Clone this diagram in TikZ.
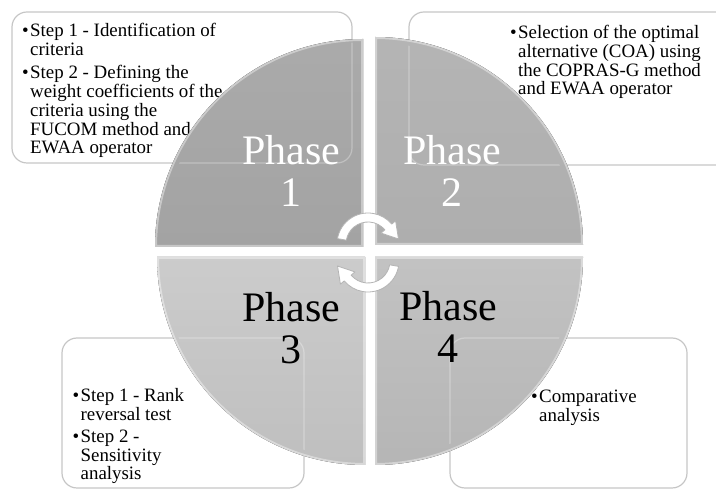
\documentclass[tikz,border=0pt]{standalone}
\usepackage{fontspec}
\setmainfont{Liberation Serif}
\definecolor{panelline}{HTML}{C6C6C6}
\definecolor{quadA}{HTML}{A3A3A3}
\definecolor{quadB}{HTML}{AEAEAE}
\definecolor{quadC}{HTML}{C9C9C9}
\definecolor{quadD}{HTML}{BFBFBF}
\definecolor{arrowedge}{HTML}{B4B4B4}
\newcommand{\bulletmark}{\makebox[8pt][l]{\textbullet}}
\begin{document}
\begin{tikzpicture}[x=1pt,y=1pt,
  panel/.style={draw=panelline, line width=1.2pt, rounded corners=15pt},
  panelglow/.style={draw=white, draw opacity=0.3, line width=1.2pt, rounded corners=15pt},
  bullets/.style={anchor=base west, inner sep=0pt, font=\fontsize{18.9}{18.5}\selectfont},
  phasetext/.style={align=center, inner sep=0pt, font=\fontsize{42}{42.5}\selectfont},
  bevel/.style={draw=white, draw opacity=0.4, line width=4pt},
  cyclearrow/.style={fill=white, draw=arrowedge, line width=0.8pt, line join=round}
]
\useasboundingbox (0,0) rectangle (716,490);
\clip (0,0) rectangle (716,490);

% outlined text panels behind the wheel
\draw[panel] (12,327) rectangle (352,478);
\draw[panel] (409,325) rectangle (740,478);
\draw[panel] (62,2) rectangle (304,152);
\draw[panel] (450,2) rectangle (687,152);

\node[bullets] (steps1) at (22,453.3) {\begin{tabular}[t]{@{}l@{}l@{}}
\bulletmark & Step 1 - Identification of\\
            & criteria\\[4.8pt]
\bulletmark & Step 2 - Defining the\\
            & weight coefficients of the\\
            & criteria using the\\
            & FUCOM method and\\
            & EWAA operator
\end{tabular}};

\node[bullets] (steps2) at (510,451) {\begin{tabular}[t]{@{}l@{}l@{}}
\bulletmark & Selection of the optimal\\
            & alternative (COA) using\\
            & the COPRAS-G method\\
            & and EWAA operator
\end{tabular}};

\node[bullets] (steps3) at (72.5,88) {\begin{tabular}[t]{@{}l@{}l@{}}
\bulletmark & Step 1 - Rank\\
            & reversal test\\[3.5pt]
\bulletmark & Step 2 -\\
            & Sensitivity\\
            & analysis
\end{tabular}};

\node[bullets] (steps4) at (531,87) {\begin{tabular}[t]{@{}l@{}l@{}}
\bulletmark & Comparative\\
            & analysis
\end{tabular}};

% the four quarter discs of the wheel
\def\qA{(363,243) -- (155,243) arc[start angle=180,end angle=90,radius=208] -- cycle}
\def\qB{(375,245) -- (375,453) arc[start angle=90,end angle=0,radius=208] -- cycle}
\def\qC{(365,233) -- (157,233) arc[start angle=180,end angle=270,radius=208] -- cycle}
\def\qD{(375,233) -- (583,233) arc[start angle=0,end angle=-90,radius=208] -- cycle}

\fill[top color=quadA!92!white, bottom color=quadA] \qA;
\fill[top color=quadB!92!white, bottom color=quadB] \qB;
\fill[top color=quadC!95!white, bottom color=quadC!95!black] \qC;
\fill[top color=quadD!95!white, bottom color=quadD!95!black] \qD;

\begin{scope}\clip \qA; \draw[bevel] \qA; \end{scope}
\begin{scope}\clip \qB; \draw[bevel] \qB; \end{scope}
\begin{scope}\clip \qC; \draw[bevel] \qC; \end{scope}
\begin{scope}\clip \qD; \draw[bevel] \qD; \end{scope}

% panel outlines showing faintly through the wheel
\begin{scope}
\clip (369,239) circle[radius=209];
\draw[panelglow] (12,327) rectangle (352,478);
\draw[panelglow] (409,325) rectangle (740,478);
\draw[panelglow] (62,2) rectangle (304,152);
\draw[panelglow] (450,2) rectangle (687,152);
\end{scope}

\node[phasetext, text=white] (phase1) at (291,319) {Phase\\1};
\node[phasetext, text=white] (phase2) at (452,319) {Phase\\2};
\node[phasetext] (phase3) at (291,162) {Phase\\3};
\node[phasetext] (phase4) at (448,163) {Phase\\4};

% circular arrows in the middle
\begin{scope}[shift={(368,246)}]
\draw[cyclearrow] (170:31) arc[start angle=170,end angle=40,radius=31]
  -- (40:36) -- (30.5,5.0) -- (40:17) -- (40:22)
  arc[start angle=40,end angle=170,radius=22] -- cycle;
\end{scope}
\begin{scope}[shift={(368,229)}, rotate=180]
\draw[cyclearrow] (170:31) arc[start angle=170,end angle=40,radius=31]
  -- (40:36) -- (30.5,5.0) -- (40:17) -- (40:22)
  arc[start angle=40,end angle=170,radius=22] -- cycle;
\end{scope}
\end{tikzpicture}
\end{document}
